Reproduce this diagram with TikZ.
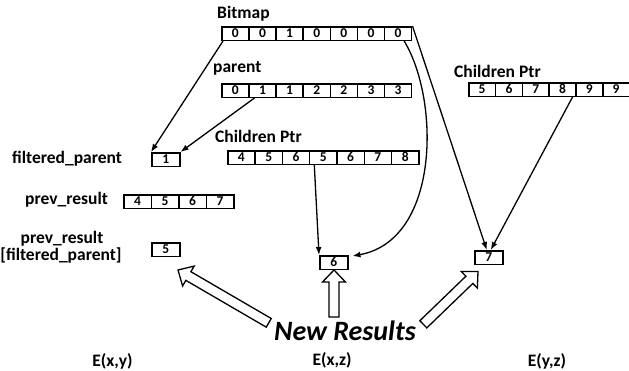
\documentclass[tikz,border=0pt]{standalone}
\usepackage{fontspec}
\setmainfont{Carlito}
\usetikzlibrary{arrows.meta,calc}
\tikzset{
  cell/.style={draw, line width=1.5pt, minimum height=13.5pt, inner sep=0pt,
    font=\fontsize{13.5}{13.5}\selectfont\bfseries, anchor=north west,
    text height=8.7pt, text depth=0pt},
  lbl/.style={inner sep=0pt, anchor=base west, font=\fontsize{17.5}{20}\selectfont\bfseries},
  link/.style={line width=1.3pt, -{Latex[length=8pt,width=6pt]}},
  pics/hollowarrow/.style={code={%
    \draw[line width=1.3pt, fill=white] (0,0) -- (12,11.5) -- (12,5) -- (#1,5)
      -- (#1,-5) -- (12,-5) -- (12,-11.5) -- cycle;}}
}
\newcommand\cellrow[5]{%
  \foreach \v [count=\i] in {#5} {%
    \node[cell, minimum width=#4pt] (#1\i) at ({#2+(\i-1)*#4},#3) {\v};}}
\begin{document}
\begin{tikzpicture}[x=1pt,y=-1pt]
\useasboundingbox (0,0) rectangle (629,370);

% labels
\node[lbl] (lbBitmap) at (217,18.5) {Bitmap};
\node[lbl] (lbParent) at (213,72) {parent};
\node[lbl] (lbCpm) at (215,142) {Children Ptr};
\node[lbl] (lbCpr) at (454,77) {Children Ptr};
\node[lbl] (lbFp) at (12,163.5) {filtered\_parent};
\node[lbl] (lbPrev) at (25,204) {prev\_result};
\node[lbl, anchor=base] (lbPrA) at (62,243) {prev\_result};
\node[lbl, anchor=base] (lbPrB) at (61,260) {[filtered\_parent]};
\node[lbl, anchor=base] (exy) at (112.5,366) {E(x,y)};
\node[lbl, anchor=base] (exz) at (332,365) {E(x,z)};
\node[lbl, anchor=base] (eyz) at (547,366) {E(y,z)};
\node[anchor=base, inner sep=0pt, font=\fontsize{28}{30}\selectfont\bfseries\itshape]
  (newres) at (345,340) {New Results};

% arrays
\cellrow{bm}{221}{26}{27.14}{0,0,1,0,0,0,0}
\cellrow{par}{221}{83}{27.14}{0,1,1,2,2,3,3}
\cellrow{cpm}{227}{150}{27.3}{4,5,6,5,6,7,8}
\cellrow{cpr}{468}{82}{26.8}{5,6,7,8,9,9}
\cellrow{prv}{123}{194}{27.5}{4,5,6,7}
\node[cell, minimum width=28pt] (boxA) at (151,152) {1};
\node[cell, minimum width=28pt] (boxB) at (151,242) {5};
\node[cell, minimum width=28pt] (boxC) at (319,255) {6};
\node[cell, minimum width=28pt] (boxD) at (474,250) {7};

% connectors
\draw[link] ([xshift=2pt]bm1.south west) -- (boxA.north west);
\draw[link] ([xshift=-8pt]par2.south) -- (boxA.north east);
\draw[link] ([xshift=6pt]bm7.south) .. controls (440,100) and (440,240) .. ([xshift=4pt,yshift=-1pt]boxC.north east);
\draw[link] (bm7.north east) -- ([xshift=-2pt]boxD.north);
\draw[link] ([xshift=10pt]cpr4.south) -- ([xshift=2pt]boxD.north);
\draw[link] ([xshift=-9pt]cpm4.south) -- (boxC.north west);

% hollow arrows
\pic[rotate=-30.2] at (178,270) {hollowarrow=105};
\pic[rotate=-90] at (334,270) {hollowarrow=47};
\pic[rotate=-136] at (478,271.5) {hollowarrow=76};
\end{tikzpicture}
\end{document}
